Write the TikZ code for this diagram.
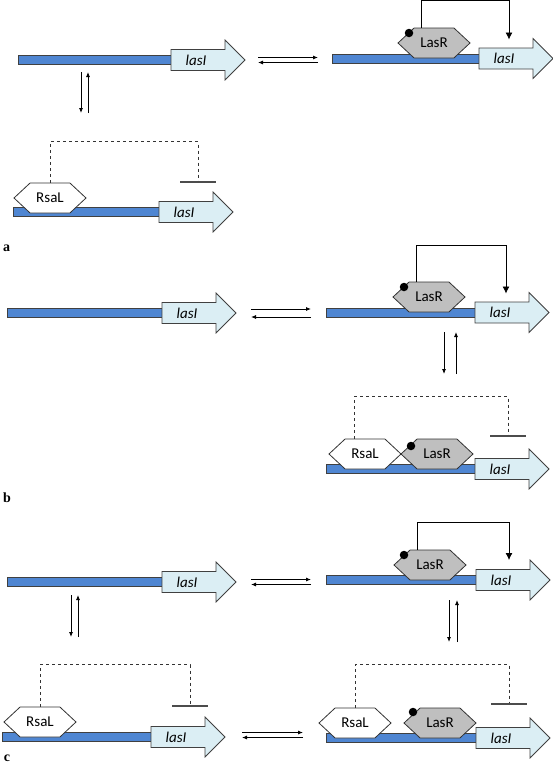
\documentclass[tikz,border=0pt]{standalone}
\usepackage{fontspec}
\setsansfont{Carlito}
\newfontfamily\panelfont{Liberation Serif}
\usetikzlibrary{shapes.symbols,arrows.meta}
\definecolor{barblue}{RGB}{79,134,210}
\definecolor{genefill}{RGB}{219,238,244}
\definecolor{lasrgray}{RGB}{191,191,191}
\tikzset{
  bar/.style={draw=black!75,fill=barblue,line width=0.8pt},
  genetext/.style={font=\sffamily\itshape\fontsize{15}{17}\selectfont,inner sep=0pt},
  gene/.pic={
    \draw[draw=black!75,fill=genefill,line width=0.8pt]
      (0,-10.5) -- (54,-10.5) -- (54,-20) -- (74,0) -- (54,20) -- (54,10.5)
      -- (0,10.5) -- cycle;
    \coordinate (-c) at (37,0);
    \node[genetext] (-t) at (25,0) {lasI};
  },
  hexa/.style={signal,signal to=west and east,signal pointer angle=86,
    draw=black!80,line width=0.8pt,minimum width=72pt,minimum height=30pt,
    inner sep=0pt,font=\sffamily\fontsize{15}{17}\selectfont},
  lasr/.style={hexa,fill=lasrgray},
  rsal/.style={hexa,fill=white},
  dot/.style={circle,fill=black,inner sep=0pt,minimum size=8.5pt},
  eq/.style={line width=0.8pt,-{Latex[length=5pt,width=4pt]}},
  fb/.style={line width=0.8pt,-{Latex[length=7pt,width=7pt]}},
  repress/.style={draw=black!80,line width=0.8pt,dashed},
  tbar/.style={draw=black!70,line width=1.2pt},
  panel/.style={font=\panelfont\bfseries\fontsize{14}{16}\selectfont,inner sep=0pt}
}
\begin{document}
\begin{tikzpicture}[x=1pt,y=-1pt]
\useasboundingbox (0,0) rectangle (553,763);

% panel a
\draw[bar] (18,55.5) rectangle (172,64.5);
\pic (g1) at (171,60) {gene};
\draw[bar] (332,54) rectangle (480,63);
\pic (g2) at (479,58.5) {gene};
\node[lasr] (lr1) at (434,43) {LasR};
\node[dot] (d1) at ([xshift=-25pt,yshift=10pt]lr1.center) {};
\draw[fb] ([xshift=-13pt]lr1.north) -- ++(0,-27) -| ([xshift=-7pt,yshift=19pt]g2-c);
\draw[bar] (13,207.5) rectangle (160,216.5);
\pic (g3) at (159,212) {gene};
\node[rsal] (rs1) at (50,198) {RsaL};
\coordinate (tb1) at ([xshift=2pt,yshift=30pt]g3-c);
\draw[repress] (rs1.north) -- ++(0,-41) -| (tb1);
\draw[tbar] ([xshift=-18pt]tb1) -- ([xshift=18pt]tb1);
\coordinate (ha1) at (258,60);
\coordinate (hb1) at (318,60);
\draw[eq] ([yshift=2.5pt]ha1) -- ([yshift=2.5pt]hb1);
\draw[eq] ([yshift=-2.5pt]hb1) -- ([yshift=-2.5pt]ha1);
\coordinate (va1) at (84.5,72);
\coordinate (vb1) at (84.5,113);
\draw[eq] ([xshift=-3.5pt]va1) -- ([xshift=-3.5pt]vb1);
\draw[eq] ([xshift=3.5pt]vb1) -- ([xshift=3.5pt]va1);
\node[panel] (pa) at (6.5,248) {a};

% panel b
\draw[bar] (7,308.5) rectangle (163,317.5);
\pic (g4) at (162,313) {gene};
\draw[bar] (326,308) rectangle (476,317);
\pic (g5) at (475,312.5) {gene};
\node[lasr] (lr2) at (429,297) {LasR};
\node[dot] (d2) at ([xshift=-25pt,yshift=10pt]lr2.center) {};
\draw[fb] ([xshift=-13pt]lr2.north) -- ++(0,-36) -| ([xshift=-6pt,yshift=19pt]g5-c);
\draw[bar] (326,464.5) rectangle (476,473.5);
\pic (g6) at (475,469) {gene};
\node[rsal] (rs2) at (365,454) {RsaL};
\node[lasr] (lr3) at (437,454) {LasR};
\node[dot] (d3) at ([xshift=-26pt,yshift=8pt]lr3.center) {};
\coordinate (tb2) at ([xshift=-4pt,yshift=33pt]g6-c);
\draw[repress] ([xshift=-11pt]rs2.north) -- ++(0,-42) -| (tb2);
\draw[tbar] ([xshift=-18pt]tb2) -- ([xshift=18pt]tb2);
\coordinate (ha2) at (251,313);
\coordinate (hb2) at (311,313);
\draw[eq] ([yshift=4pt]ha2) -- ([yshift=4pt]hb2);
\draw[eq] ([yshift=-4pt]hb2) -- ([yshift=-4pt]ha2);
\coordinate (va2) at (450,332);
\coordinate (vb2) at (450,374);
\draw[eq] ([xshift=-6pt]va2) -- ([xshift=-6pt]vb2);
\draw[eq] ([xshift=6pt]vb2) -- ([xshift=6pt]va2);
\node[panel] (pb) at (7,498) {b};

% panel c
\draw[bar] (7,577.5) rectangle (163,586.5);
\pic (g7) at (162,582) {gene};
\draw[bar] (326,575.5) rectangle (477,584.5);
\pic (g8) at (476,580) {gene};
\node[lasr] (lr4) at (430,565) {LasR};
\node[dot] (d4) at ([xshift=-26pt,yshift=10pt]lr4.center) {};
\draw[fb] ([xshift=-13pt]lr4.north) -- ++(0,-27) -| ([xshift=-4pt,yshift=20pt]g8-c);
\draw[bar] (2,732.5) rectangle (152,741.5);
\pic (g9) at (151,737) {gene};
\node[rsal] (rs3) at (40,722) {RsaL};
\coordinate (tb3) at ([xshift=2pt,yshift=31pt]g9-c);
\draw[repress] (rs3.north) -- ++(0,-42) -| (tb3);
\draw[tbar] ([xshift=-18pt]tb3) -- ([xshift=18pt]tb3);
\draw[bar] (326,733.5) rectangle (477,742.5);
\pic (g10) at (476,738) {gene};
\node[rsal] (rs4) at (355,723) {RsaL};
\node[lasr] (lr5) at (440,723) {LasR};
\node[dot] (d5) at ([xshift=-27pt,yshift=11pt]lr5.center) {};
\coordinate (tb4) at ([xshift=-4pt,yshift=34pt]g10-c);
\draw[repress] (rs4.north) -- ++(0,-43) -| (tb4);
\draw[tbar] ([xshift=-18pt]tb4) -- ([xshift=18pt]tb4);
\coordinate (ha3) at (251,582);
\coordinate (hb3) at (311,582);
\draw[eq] ([yshift=2.5pt]ha3) -- ([yshift=2.5pt]hb3);
\draw[eq] ([yshift=-2.5pt]hb3) -- ([yshift=-2.5pt]ha3);
\coordinate (ha4) at (242,735);
\coordinate (hb4) at (303,735);
\draw[eq] ([yshift=2.5pt]ha4) -- ([yshift=2.5pt]hb4);
\draw[eq] ([yshift=-2.5pt]hb4) -- ([yshift=-2.5pt]ha4);
\coordinate (va3) at (74.5,595);
\coordinate (vb3) at (74.5,637);
\draw[eq] ([xshift=-3.5pt]va3) -- ([xshift=-3.5pt]vb3);
\draw[eq] ([xshift=3.5pt]vb3) -- ([xshift=3.5pt]va3);
\coordinate (va4) at (453,600);
\coordinate (vb4) at (453,642);
\draw[eq] ([xshift=-4pt]va4) -- ([xshift=-4pt]vb4);
\draw[eq] ([xshift=4pt]vb4) -- ([xshift=4pt]va4);
\node[panel] (pc) at (7,758) {c};
\end{tikzpicture}
\end{document}
